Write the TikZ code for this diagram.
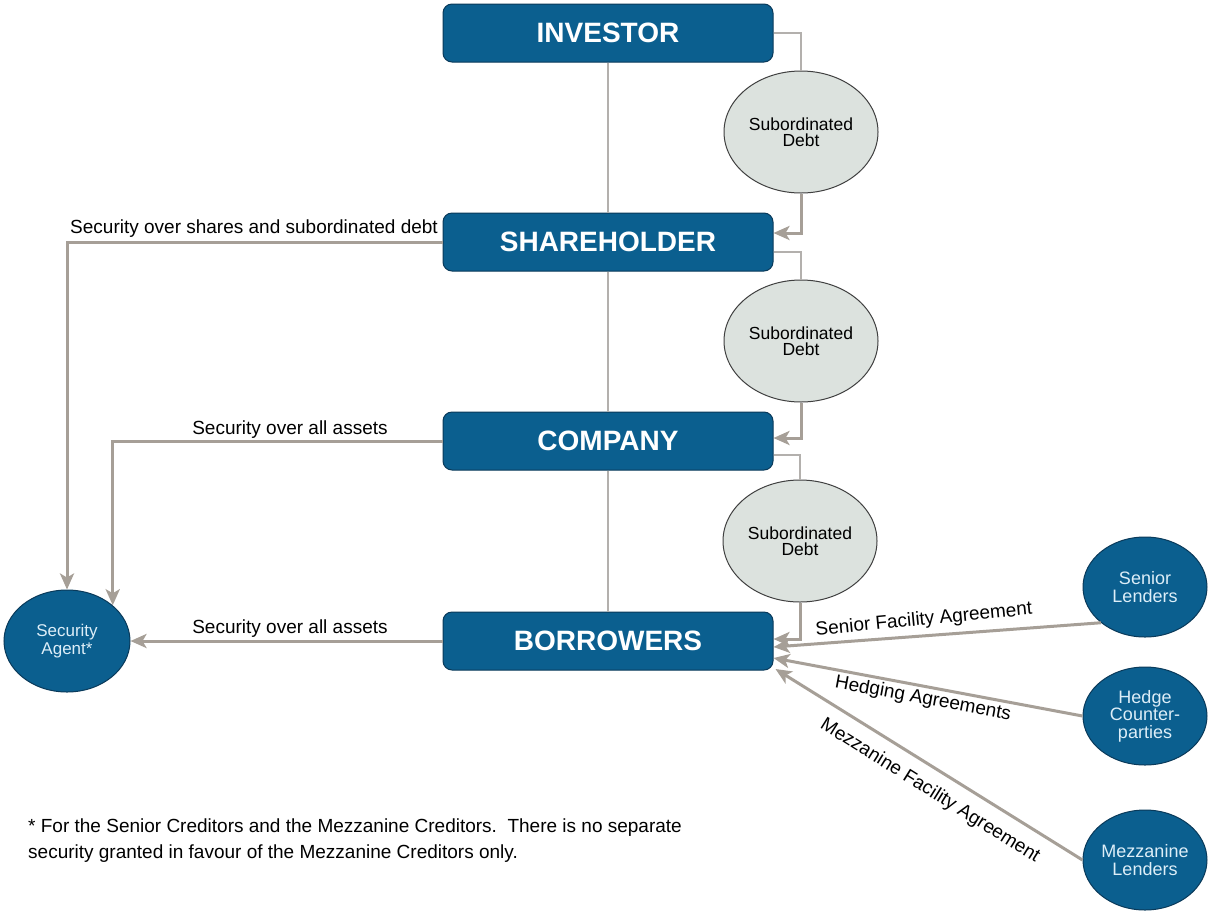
\documentclass[tikz,border=0pt]{standalone}
\usepackage{fontspec}
\setmainfont{Liberation Sans}
\usetikzlibrary{arrows.meta,shapes.geometric,calc}
\definecolor{boxblue}{HTML}{0B5F8F}
\definecolor{boxedge}{HTML}{0A3A5A}
\definecolor{sdfill}{HTML}{DCE2DE}
\definecolor{arrgray}{HTML}{A69F97}
\definecolor{vgray}{HTML}{B3B0AD}
\definecolor{lighttext}{HTML}{DDEEF8}
\begin{document}
\begin{tikzpicture}[x=1pt,y=-1pt,
  entity/.style={draw=boxedge, line width=1pt, fill=boxblue, rounded corners=9pt,
    minimum width=330pt, minimum height=58pt, text=white,
    font=\fontsize{28}{30}\selectfont\bfseries, inner sep=0pt},
  debt/.style={ellipse, draw=black!75, line width=1pt, fill=sdfill,
    minimum width=154pt, minimum height=122pt,
    font=\fontsize{17.5}{16}\selectfont, align=center, inner sep=0pt},
  party/.style={ellipse, draw=boxedge, line width=1pt, fill=boxblue,
    minimum width=124pt, minimum height=100pt, text=lighttext,
    font=\fontsize{18}{17.5}\selectfont, align=center, inner sep=0pt},
  vline/.style={draw=vgray, line width=1.3pt},
  flow/.style={draw=arrgray, line width=3pt, -{Stealth[length=16pt,width=14pt,inset=4pt]}},
  lbl/.style={font=\fontsize{19}{20}\selectfont, inner sep=0pt}
]
\fill[white] (0,0) rectangle (1208,914);
\useasboundingbox (0,0) rectangle (1208,914);

% main boxes
\node[entity] (investor)    at (608,33)  {INVESTOR};
\node[entity] (shareholder) at (608,242) {SHAREHOLDER};
\node[entity] (company)     at (608,441) {COMPANY};
\node[entity] (borrowers)   at (608,641) {BORROWERS};

% vertical spine
\draw[vline] (investor.south) -- (shareholder.north);
\draw[vline] (shareholder.south) -- (company.north);
\draw[vline] (company.south) -- (borrowers.north);

% subordinated debt ellipses
\node[debt] (sd1) at (801,132) {Subordinated\\Debt};
\node[debt] (sd2) at (801,341) {Subordinated\\Debt};
\node[debt] (sd3) at (800,541) {Subordinated\\Debt};

\draw[vline] (investor.east) -| (sd1.north);
\draw[flow] (sd1.south) |- ($(shareholder.east)+(0,-9)$);
\draw[vline] ($(shareholder.east)+(0,10)$) -| (sd2.north);
\draw[flow] (sd2.south) |- ($(company.east)+(0,-3)$);
\draw[vline] ($(company.east)+(0,14)$) -| (sd3.north);
\draw[flow] (sd3.south) |- ($(borrowers.east)+(0,-2)$);

% security agent
\node[party, font=\fontsize{17}{17.5}\selectfont, minimum width=126pt, minimum height=102pt] (agent) at (67,641) {Security\\Agent*};
\draw[flow] (shareholder.west) -| (agent.north);
\draw[flow] (company.west) -| (agent.38);
\draw[flow] (borrowers.west) -- (agent.east);

\node[lbl, anchor=base east] (l1) at (438,233) {Security over shares and subordinated debt};
\node[lbl, anchor=base] (l2) at (290,434) {Security over all assets};
\node[lbl, anchor=base] (l3) at (290,633) {Security over all assets};

% lenders
\node[party] (senior) at (1145,587) {Senior\\Lenders};
\node[party, minimum height=98pt] (hedge) at (1145,716) {Hedge\\Counter-\\parties};
\node[party] (mezz) at (1145,860) {Mezzanine\\Lenders};

\draw[flow] (senior.219) -- ($(borrowers.east)+(0,6)$);
\draw[flow] (hedge.west) -- ($(borrowers.east)+(0,17)$);
\draw[flow] (mezz.west) -- ($(borrowers.east)+(2,28)$);

\node[lbl, rotate=5.5] (l4) at (924,620) {Senior Facility Agreement};
\node[lbl, rotate=-10.5] (l5) at (923,699) {Hedging Agreements};
\node[lbl, rotate=-32] (l6) at (930,791) {Mezzanine Facility Agreement};

% footnote
\node[lbl, anchor=base west] (note1) at (28,832) {* For the Senior Creditors and the Mezzanine Creditors.\ \ There is no separate};
\node[lbl, anchor=base west] (note2) at (28,858) {security granted in favour of the Mezzanine Creditors only.};
\end{tikzpicture}
\end{document}
